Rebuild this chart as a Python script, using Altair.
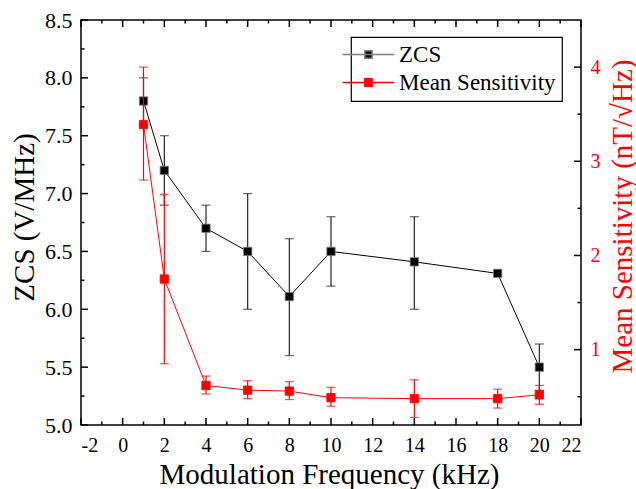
import altair as alt
import pandas as pd

# ---------------- data ----------------
freq = [1, 2, 4, 6, 8, 10, 14, 18, 20]
zcs = [7.8, 7.2, 6.7, 6.5, 6.11, 6.5, 6.41, 6.31, 5.5]
zcs_lo = [7.6, 6.9, 6.5, 6.0, 5.6, 6.2, 6.0, 6.31, 5.3]
zcs_hi = [8.0, 7.5, 6.9, 7.0, 6.61, 6.8, 6.8, 6.31, 5.7]
sens = [3.39, 1.75, 0.62, 0.57, 0.56, 0.49, 0.48, 0.48, 0.52]
sens_lo = [2.8, 0.85, 0.53, 0.48, 0.47, 0.40, 0.28, 0.38, 0.42]
sens_hi = [4.0, 2.65, 0.72, 0.67, 0.66, 0.60, 0.68, 0.58, 0.62]
series_names = ["ZCS", "Mean Sensitivity"]

x_major_ticks = [-2, 0, 2, 4, 6, 8, 10, 12, 14, 16, 18, 20, 22]
x_minor_ticks = [-1, 1, 3, 5, 7, 9, 11, 13, 15, 17, 19, 21]
zcs_major_ticks = [5.0, 5.5, 6.0, 6.5, 7.0, 7.5, 8.0, 8.5]
zcs_minor_ticks = [5.25, 5.75, 6.25, 6.75, 7.25, 7.75, 8.25]
sens_major_ticks = [1, 2, 3, 4]
sens_minor_ticks = [0.5, 1.5, 2.5, 3.5]

# ---------------- layout ----------------
W, H = 500, 405
FONT = "Liberation Serif, Times New Roman, serif"
RED = "#ff0000"

zdf = pd.DataFrame({"x": freq, "y": zcs, "lo": zcs_lo, "hi": zcs_hi, "series": series_names[0]})
sdf = pd.DataFrame({"x": freq, "y": sens, "lo": sens_lo, "hi": sens_hi, "series": series_names[1]})

xscale = alt.Scale(domain=[-2, 22], nice=False, zero=False)
zscale = alt.Scale(domain=[5.0, 8.5], nice=False, zero=False)
sscale = alt.Scale(domain=[0.2, 4.5], nice=False, zero=False)

xaxis = alt.Axis(values=x_major_ticks, title="Modulation Frequency (kHz)", ticks=False, domain=False,
                 grid=False, labelFont=FONT, labelFontSize=20, labelPadding=10, labelColor="black",
                 labelExpr="datum.value < 0 ? '-' + abs(datum.value) : '' + datum.value",
                 titleFont=FONT, titleFontSize=29, titleFontWeight="normal", titleColor="black",
                 titleX=W / 2 - 2, titleY=58, titleBaseline="alphabetic", titleAlign="center")
zaxis = alt.Axis(values=zcs_major_ticks, format=".1f", title="ZCS (V/MHz)", ticks=False, domain=False,
                 grid=False, labelFont=FONT, labelFontSize=22, labelPadding=9, labelColor="black",
                 titleFont=FONT, titleFontSize=29, titleFontWeight="normal", titleColor="black",
                 titleAngle=270, titleX=-48, titleY=197, titleBaseline="alphabetic", titleAlign="center")
saxis = alt.Axis(values=sens_major_ticks, format="d", orient="right", title="Mean Sensitivity (nT/√Hz)",
                 ticks=False, domain=False, grid=False, labelFont=FONT, labelFontSize=20, labelPadding=9,
                 labelColor=RED, titleFont=FONT, titleFontSize=29, titleFontWeight="normal",
                 titleColor=RED, titleAngle=270, titleX=50, titleY=196, titleBaseline="alphabetic",
                 titleAlign="center")


def X(field):
    return alt.X(field, type="quantitative", scale=xscale, axis=xaxis)


def YZ(field):
    return alt.Y(field, type="quantitative", scale=zscale, axis=zaxis)


def YS(field):
    return alt.Y(field, type="quantitative", scale=sscale, axis=saxis)


legend = alt.Legend(
    title=None, orient="none", legendX=270, legendY=17,
    symbolType="M-7.1,0H7.1M-1,-1H1V1H-1Z", symbolSize=53, symbolStrokeWidth=1.5,
    labelFontSize=23, labelFont=FONT, labelColor="black", labelOffset=19,
    strokeColor="black", fillColor="white", padding=6, rowPadding=4,
)
color_enc = alt.Color("series:N", scale=alt.Scale(domain=series_names, range=["black", RED]), legend=legend)
stroke_enc = alt.Stroke("series:N", scale=alt.Scale(domain=series_names, range=["gray", RED]), legend=legend)


def tick_rules(vals, enc):
    return alt.Chart(pd.DataFrame({"t": vals})).mark_rule(color="black", strokeWidth=1.5).encode(**enc)


# ZCS group (left axis)
z_err = alt.Chart(zdf).transform_filter("datum.hi > datum.lo").mark_errorbar(
    ticks=True, color="#222222", thickness=1.2, size=9
).encode(x=X("x"), y=YZ("lo"), y2=alt.Y2("hi"))
z_line = alt.Chart(zdf).mark_line(color="black", strokeWidth=1).encode(x=X("x"), y=YZ("y"))
z_pts = alt.Chart(zdf).mark_point(shape="square", filled=True, size=70, opacity=1, strokeWidth=0.8).encode(
    x=X("x"), y=YZ("y"), color=color_enc, stroke=stroke_enc)

z_ticks = [
    tick_rules(x_major_ticks, dict(x=X("t"), y=alt.value(H), y2=alt.value(H - 7))),
    tick_rules(x_minor_ticks, dict(x=X("t"), y=alt.value(H), y2=alt.value(H - 3.5))),
    tick_rules(x_major_ticks, dict(x=X("t"), y=alt.value(0), y2=alt.value(7))),
    tick_rules(x_minor_ticks, dict(x=X("t"), y=alt.value(0), y2=alt.value(3.5))),
    tick_rules(zcs_major_ticks, dict(y=YZ("t"), x=alt.value(0), x2=alt.value(7))),
    tick_rules(zcs_minor_ticks, dict(y=YZ("t"), x=alt.value(0), x2=alt.value(3.5))),
]

# Sensitivity group (right axis)
s_err = alt.Chart(sdf).mark_errorbar(ticks=True, color=RED, thickness=1.2, size=9).encode(
    x=X("x"), y=YS("lo"), y2=alt.Y2("hi"))
s_line = alt.Chart(sdf).mark_line(color=RED, strokeWidth=1).encode(x=X("x"), y=YS("y"))
s_pts = alt.Chart(sdf).mark_point(shape="square", filled=True, size=70, opacity=1, strokeWidth=0.8).encode(
    x=X("x"), y=YS("y"), color=color_enc, stroke=stroke_enc)
s_ticks = [
    tick_rules(sens_major_ticks, dict(y=YS("t"), x=alt.value(W), x2=alt.value(W - 7))),
    tick_rules(sens_minor_ticks, dict(y=YS("t"), x=alt.value(W), x2=alt.value(W - 3.5))),
]

zgroup = alt.layer(*z_ticks, z_err, z_line, z_pts)
sgroup = alt.layer(*s_ticks, s_err, s_line, s_pts)

chart = alt.layer(zgroup, sgroup).resolve_scale(y="independent").properties(
    width=W, height=H,
    autosize=alt.AutoSizeParams(type="none"),
    padding={"left": 81, "top": 20, "right": 55, "bottom": 64},
    background="white",
).configure(
    font=FONT,
    view=alt.ViewConfig(stroke="black", strokeWidth=1.5),
    legend=alt.LegendConfig(strokeWidth=1.2),
)

chart.save("out.html", embed_options={"renderer": "svg", "actions": False})
